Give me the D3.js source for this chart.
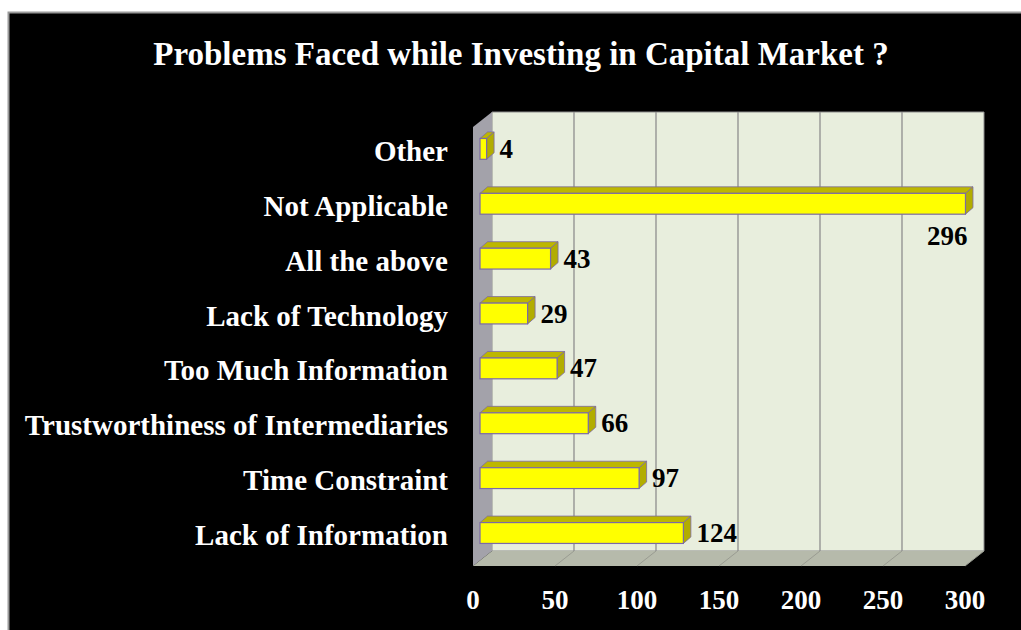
<!DOCTYPE html>
<html>
<head>
<meta charset="utf-8">
<script src="https://cdn.jsdelivr.net/npm/d3@7"></script>
<style>
  html, body { margin: 0; padding: 0; background: #ffffff; }
  svg { display: block; }
  text { font-family: "Liberation Serif", "Times New Roman", serif; font-weight: bold; }
</style>
</head>
<body>
<svg id="chart" width="1021" height="630"></svg>
<script>
// Survey responses: problems faced while investing in the capital market
const categories = [
  "Other",
  "Not Applicable",
  "All the above",
  "Lack of Technology",
  "Too Much Information",
  "Trustworthiness of Intermediaries",
  "Time Constraint",
  "Lack of Information"
];
const counts = [4, 296, 43, 29, 47, 66, 97, 124];
const tickValues = [0, 50, 100, 150, 200, 250, 300];
const titleText = "Problems Faced while Investing in Capital Market ?";

const W = 1021, H = 630;
const svg = d3.select("#chart");

// page frame
svg.append("rect").attr("x", 0).attr("y", 0).attr("width", W).attr("height", H).attr("fill", "#ffffff");
svg.append("rect").attr("x", 8.5).attr("y", 12.5).attr("width", W + 10).attr("height", H + 10)
  .attr("fill", "#000000").attr("stroke", "#9a9a9a").attr("stroke-width", 2);

// 3D geometry: front plane, plus a depth vector toward the back wall
const depth = { dx: 19, dy: -15 };
const x = d3.scaleLinear().domain([0, 300]).range([473, 965]);
const y = d3.scaleBand().domain(categories).range([127, 566]).paddingInner(0.62).paddingOuter(0.31);
const frontTop = 127, frontBottom = 566;
const xMin = x(0), xMax = x(300);

const pts = a => a.map(p => p.join(",")).join(" ");

// back wall
svg.append("polygon")
  .attr("points", pts([[xMin + depth.dx, frontTop + depth.dy], [xMax + depth.dx, frontTop + depth.dy],
                       [xMax + depth.dx, frontBottom + depth.dy], [xMin + depth.dx, frontBottom + depth.dy]]))
  .attr("fill", "#e8eedd").attr("stroke", "#8c8c8c").attr("stroke-width", 1);

// side wall (left)
svg.append("polygon")
  .attr("points", pts([[xMin, frontTop], [xMin + depth.dx, frontTop + depth.dy],
                       [xMin + depth.dx, frontBottom + depth.dy], [xMin, frontBottom]]))
  .attr("fill", "#a3a2aa");

// floor
svg.append("polygon")
  .attr("points", pts([[xMin + depth.dx, frontBottom + depth.dy], [xMax + depth.dx, frontBottom + depth.dy],
                       [xMax, frontBottom], [xMin, frontBottom]]))
  .attr("fill", "#b6baab");

// gridlines on back wall and floor
const inner = tickValues.filter(v => v > 0 && v < 300);
svg.append("g").selectAll("line").data(inner).join("line")
  .attr("x1", d => x(d) + depth.dx).attr("x2", d => x(d) + depth.dx)
  .attr("y1", frontTop + depth.dy).attr("y2", frontBottom + depth.dy)
  .attr("stroke", "#8e8e8e").attr("stroke-width", 1.3);
svg.append("g").selectAll("line").data(inner.concat([300])).join("line")
  .attr("x1", d => x(d) + depth.dx).attr("x2", d => x(d))
  .attr("y1", frontBottom + depth.dy).attr("y2", frontBottom)
  .attr("stroke", "#9a9c92").attr("stroke-width", 1);

// bars: front face sits partway into the depth
const barOff = { dx: depth.dx * 0.37, dy: depth.dy * 0.37 };
const barDepth = { dx: 7.5, dy: -6.5 };
const bh = y.bandwidth();
const outline = "#7b6aa6";

const bars = svg.append("g").selectAll("g").data(categories).join("g");
bars.each(function (c, i) {
  const g = d3.select(this);
  const x0 = x(0) + barOff.dx, x1 = x(counts[i]) + barOff.dx;
  const y0 = y(c) + barOff.dy, y1 = y0 + bh;
  // top face
  g.append("polygon")
    .attr("points", pts([[x0, y0], [x0 + barDepth.dx, y0 + barDepth.dy], [x1 + barDepth.dx, y0 + barDepth.dy], [x1, y0]]))
    .attr("fill", "#bdb700").attr("stroke", outline).attr("stroke-width", 0.8);
  // end face
  g.append("polygon")
    .attr("points", pts([[x1, y0], [x1 + barDepth.dx, y0 + barDepth.dy], [x1 + barDepth.dx, y1 + barDepth.dy], [x1, y1]]))
    .attr("fill", "#b2ad00").attr("stroke", outline).attr("stroke-width", 0.8);
  // front face
  g.append("rect").attr("x", x0).attr("y", y0).attr("width", x1 - x0).attr("height", bh)
    .attr("fill", "#ffff00").attr("stroke", outline).attr("stroke-width", 1.2);
});

// value labels
svg.append("g").selectAll("text").data(categories).join("text")
  .attr("x", (c, i) => counts[i] > 250 ? x(counts[i]) + barOff.dx + 2 : x(counts[i]) + barOff.dx + 13)
  .attr("y", (c, i) => counts[i] > 250 ? y(c) + barOff.dy + bh + 31 : y(c) + barOff.dy + bh / 2 + 9)
  .attr("text-anchor", (c, i) => counts[i] > 250 ? "end" : "start")
  .attr("font-size", 27).attr("fill", "#000000")
  .text((c, i) => counts[i]);

// category labels
svg.append("g").selectAll("text").data(categories).join("text")
  .attr("x", 448)
  .attr("y", c => y(c) + barOff.dy + bh / 2 + 12)
  .attr("text-anchor", "end")
  .attr("font-size", 29).attr("fill", "#ffffff")
  .text(c => c);

// value axis labels along the front edge of the floor
svg.append("g").selectAll("text").data(tickValues).join("text")
  .attr("x", d => x(d)).attr("y", 609)
  .attr("text-anchor", "middle")
  .attr("font-size", 27).attr("fill", "#ffffff")
  .text(d => d);

// title
svg.append("text").attr("x", 521).attr("y", 65).attr("text-anchor", "middle")
  .attr("font-size", 33).attr("fill", "#ffffff").text(titleText);
</script>
</body>
</html>
